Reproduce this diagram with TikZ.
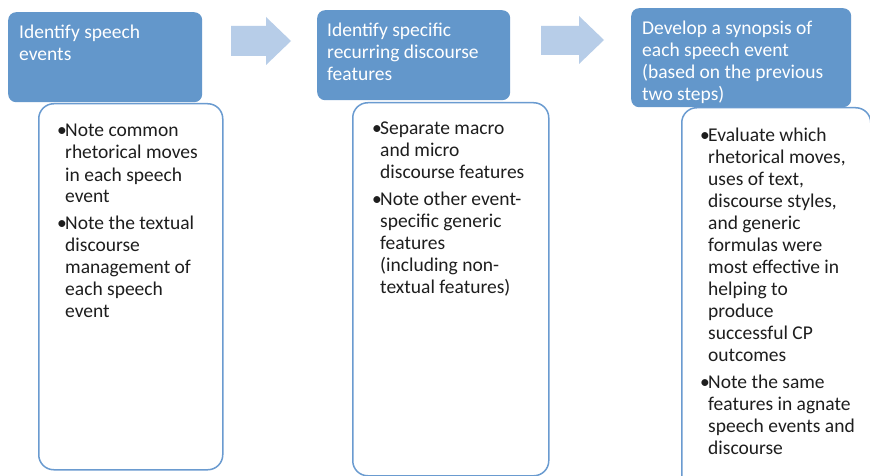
\documentclass[tikz,border=0pt]{standalone}
\usepackage{fontspec}
\setmainfont{Carlito}
\definecolor{boxblue}{HTML}{6397CB}
\definecolor{arrowblue}{HTML}{B7CDE8}
\definecolor{lineblue}{HTML}{6A9BD0}
\definecolor{txtdark}{HTML}{1E1E1E}
\newcommand\bitem[1]{\makebox[8pt][l]{\textbullet}\parbox[t]{200pt}{\raggedright #1}}
\tikzset{
  bluebox/.style={fill=boxblue, draw=none, rounded corners=8pt, anchor=north west, inner sep=0},
  whitebox/.style={fill=white, draw=lineblue, line width=1.5pt, rounded corners=15pt, anchor=north west, inner sep=0},
  headtext/.style={anchor=base west, inner sep=0, text=white, font=\fontsize{19.5}{22}\selectfont},
  bodytext/.style={anchor=base west, inner sep=0, text=txtdark, font=\fontsize{19.5}{22}\selectfont},
  flowarrow/.style={fill=arrowblue, draw=none}
}
\newcommand\hlines[1]{\parbox[t]{240pt}{\raggedright #1}}
\begin{document}
\begin{tikzpicture}[x=1pt,y=-1pt]
\useasboundingbox (0,0) rectangle (870,476);
\fill[white] (0,0) rectangle (870,476);
\begin{scope}
\clip (0,0) rectangle (870,476);
% white boxes
\node[whitebox, minimum width=184pt, minimum height=366pt] (w1) at (38,103) {};
\node[whitebox, minimum width=196pt, minimum height=373pt] (w2) at (352,102) {};
\node[whitebox, minimum width=189pt, minimum height=400pt] (w3) at (681,107) {};
% blue boxes
\node[bluebox, minimum width=194pt, minimum height=90pt] (b1) at (8,12) {};
\node[bluebox, minimum width=193pt, minimum height=90pt] (b2) at (317,10) {};
\node[bluebox, minimum width=220pt, minimum height=99pt] (b3) at (631,8) {};
\end{scope}
% arrows
\fill[flowarrow] (231,26) -- (266,26) -- (266,17) -- (291,41) -- (266,65) -- (266,56) -- (231,56) -- cycle;
\fill[flowarrow] (541,26) -- (579,26) -- (579,16) -- (604,40) -- (579,64) -- (579,55) -- (541,55) -- cycle;
% header texts
\node[headtext] (t1) at (19,39) {\hlines{Identify speech\\events}};
\node[headtext] (t2) at (327,37) {\hlines{Identify specific\\recurring discourse\\features}};
\node[headtext] (t3) at (642,35) {\hlines{Develop a synopsis of\\each speech event\\(based on the previous\\two steps)}};
% body texts
\node[bodytext] (s1a) at (57,137) {\bitem{Note common\\rhetorical moves\\in each speech\\event}};
\node[bodytext] (s1b) at (57,229) {\bitem{Note the textual\\discourse\\management of\\each speech\\event}};
\node[bodytext] (s2a) at (372,135) {\bitem{Separate macro\\and micro\\discourse features}};
\node[bodytext] (s2b) at (372,205) {\bitem{Note other event-\\specific generic\\features\\(including non-\\textual features)}};
\node[bodytext] (s3a) at (700,142) {\bitem{Evaluate which\\rhetorical moves,\\uses of text,\\discourse styles,\\and generic\\formulas were\\most effective in\\helping to\\produce\\successful CP\\outcomes}};
\node[bodytext] (s3b) at (700,388) {\bitem{Note the same\\features in agnate\\speech events and\\discourse}};
\end{tikzpicture}
\end{document}
